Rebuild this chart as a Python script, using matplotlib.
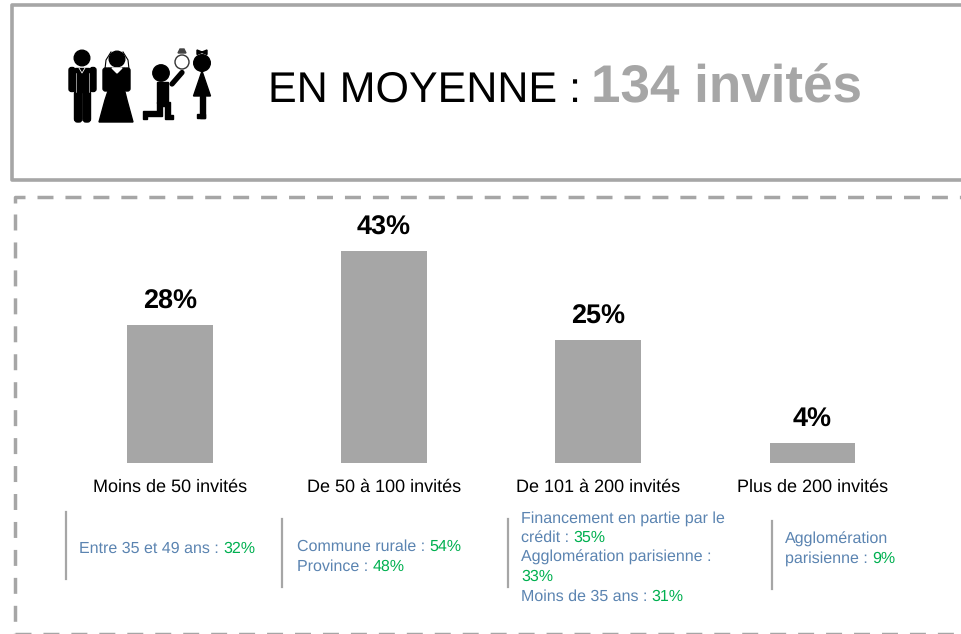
import matplotlib.pyplot as plt
from matplotlib.patches import Circle, Polygon, Rectangle, FancyBboxPatch

plt.rcParams['font.family'] = ['Liberation Sans', 'DejaVu Sans']
plt.rcParams['text.hinting'] = 'no_hinting'
plt.rcParams['text.hinting_factor'] = 1

categories = ['Moins de 50 invités', 'De 50 à 100 invités', 'De 101 à 200 invités', 'Plus de 200 invités']
values = [28, 43, 25, 4]

GREY = '#a6a6a6'
BLUE = '#5b84b1'
GREEN = '#00b050'

# each note: list of lines, each line a list of (text, is_value)
notes = [
    [[('Entre 35 et 49 ans : ', 0), ('32%', 1)]],
    [[('Commune rurale : ', 0), ('54%', 1)], [('Province : ', 0), ('48%', 1)]],
    [[('Financement en partie par le', 0)], [('crédit : ', 0), ('35%', 1)],
     [('Agglomération parisienne :', 0)], [('33%', 1)],
     [('Moins de 35 ans : ', 0), ('31%', 1)]],
    [[('Agglomération', 0)], [('parisienne : ', 0), ('9%', 1)]],
]
note_x = [79, 297, 521, 785]
note_y = [549, 547, 518.5, 539]
rule_x = [66, 282, 508, 772]
rule_y = [(512, 579), (519, 587), (519, 587), (521, 589)]

W, H = 961, 634
fig = plt.figure(figsize=(W / 100, H / 100), dpi=100)

# overlay in pixel coordinates, y going down
bg = fig.add_axes([0, 0, 1, 1])
bg.set_xlim(0, W)
bg.set_ylim(H, 0)
bg.axis('off')

# bars
ax = fig.add_axes([62.6 / W, (H - 463) / H, 857 / W, 247 / H])
ax.bar(range(4), values, width=0.4, color=GREY)
ax.set_xlim(-0.5, 3.5)
ax.set_ylim(0, 50.1)
ax.axis('off')
for i, v in enumerate(values):
    ax.annotate(f'{v}%', (i, v), xytext=(0, 16.5), textcoords='offset pixels', ha='center', va='baseline',
                fontsize=19.5, fontweight='bold', color='black')
    ax.annotate(categories[i], (i, 0), xytext=(0, -24), textcoords='offset pixels', ha='center', va='center',
                fontsize=13.3, color='black')

# top box, runs off the right edge
bg.plot([961, 12, 12, 961], [5, 5, 180, 180], color=GREY, lw=2.6, solid_joinstyle='round', clip_on=False)
# dashed box, 16px dash and 12px gap
dash = (0, (4.6, 3.45))
bg.plot([15, 15, 25], [203, 197, 197], color=GREY, lw=2.5, solid_capstyle='butt', solid_joinstyle='round')
bg.plot([37, 961], [197, 197], color=GREY, lw=2.5, ls=dash, dash_capstyle='butt')
bg.plot([15, 15], [214, 634], color=GREY, lw=2.5, ls=dash, dash_capstyle='butt')
bg.plot([15, 961], [634, 634], color=GREY, lw=2.5, ls=dash, dash_capstyle='butt')


def draw_runs(x, y, runs, size, colors, weights=None):
    renderer = fig.canvas.get_renderer()
    for s, flag in runs:
        weight = weights[flag] if weights else 'normal'
        bg.text(x, y, s, fontsize=size, color=colors[flag], ha='left', va='center', fontweight=weight)
        # trailing spaces are dropped from the extent, measure with a stop char
        probe = bg.text(0, 0, s + '.', fontsize=size, fontweight=weight)
        probe_dot = bg.text(0, 0, '.', fontsize=size, fontweight=weight)
        x += probe.get_window_extent(renderer).width - probe_dot.get_window_extent(renderer).width
        probe.remove()
        probe_dot.remove()


draw_runs(267.5, 90.5, [('EN MOYENNE : ', 0)], 30.7, ['black'])
draw_runs(591, 89, [('134 invités', 1)], 38, ['black', GREY], ['normal', 'bold'])

for i, note in enumerate(notes):
    bg.plot([rule_x[i]] * 2, rule_y[i], color=GREY, lw=1.6)
    for j, line in enumerate(note):
        draw_runs(note_x[i], note_y[i] + j * 19.5, line, 11.5, [BLUE, GREEN])

# pictogram: groom
bg.add_patch(Circle((82, 58), 7.8, color='k'))
bg.add_patch(Rectangle((75, 67.5), 14, 24, color='k'))
for lx in (69, 90):
    bg.add_patch(FancyBboxPatch((lx, 67.5), 6, 24, boxstyle='round,pad=0,rounding_size=2.5', color='k'))
bg.plot([75.5, 75.5], [73, 92], color='w', lw=0.4)
bg.plot([88.5, 88.5], [73, 92], color='w', lw=0.4)
bg.add_patch(FancyBboxPatch((74.5, 90), 7.5, 32, boxstyle='round,pad=0,rounding_size=3', color='k'))
bg.add_patch(FancyBboxPatch((83, 90), 7.5, 32, boxstyle='round,pad=0,rounding_size=3', color='k'))
bg.plot([79, 82, 85], [68, 73, 68], color='w', lw=0.6)
# bride
bg.add_patch(Circle((117, 59), 7.8, color='k'))
bg.add_patch(Polygon([[108, 68], [125, 68], [124, 88], [127, 100], [133, 122], [99, 122], [105, 100], [109, 88]], color='k'))
for lx in (103, 124):
    bg.add_patch(FancyBboxPatch((lx, 68), 6, 23, boxstyle='round,pad=0,rounding_size=2.5', color='k'))
bg.plot([111, 106, 105], [52, 60, 69], color='k', lw=0.8)
bg.plot([123, 128, 129], [52, 60, 69], color='k', lw=0.8)
bg.add_patch(Polygon([[112, 68], [122, 68], [117, 73]], color='w'))
# kneeling man
bg.add_patch(Circle((161, 73), 8.2, color='k'))
bg.add_patch(Rectangle((157, 82), 10.5, 21, color='k'))
bg.plot([172, 182], [84, 72.5], color='k', lw=3.8, solid_capstyle='round')
bg.add_patch(Polygon([[143, 111], [157, 111], [157, 102], [170, 102], [170, 115], [173, 115], [173, 118.5], [165, 118.5],
                      [165, 106], [162, 106], [162, 116], [147, 116], [147, 119], [143, 119]], color='k'))
# ring
bg.add_patch(Circle((182, 62), 7, fill=False, ec='#333333', lw=1))
bg.add_patch(Polygon([[178, 53], [180, 49], [184, 49], [186, 53]], color='#444444'))
# girl
bg.add_patch(Circle((202, 63), 8.3, color='k'))
bg.add_patch(Polygon([[202, 71], [210.5, 96], [193.5, 96]], color='k'))
bg.add_patch(Rectangle((200, 96), 4.5, 22, color='k'))
bg.add_patch(Rectangle((197, 114), 7.5, 4, color='k'))
bg.add_patch(Polygon([[197, 50], [202, 52], [207, 50], [207, 54.5], [202, 52.5], [197, 54.5]], color='k'))

fig.savefig('out.png', dpi=100)
